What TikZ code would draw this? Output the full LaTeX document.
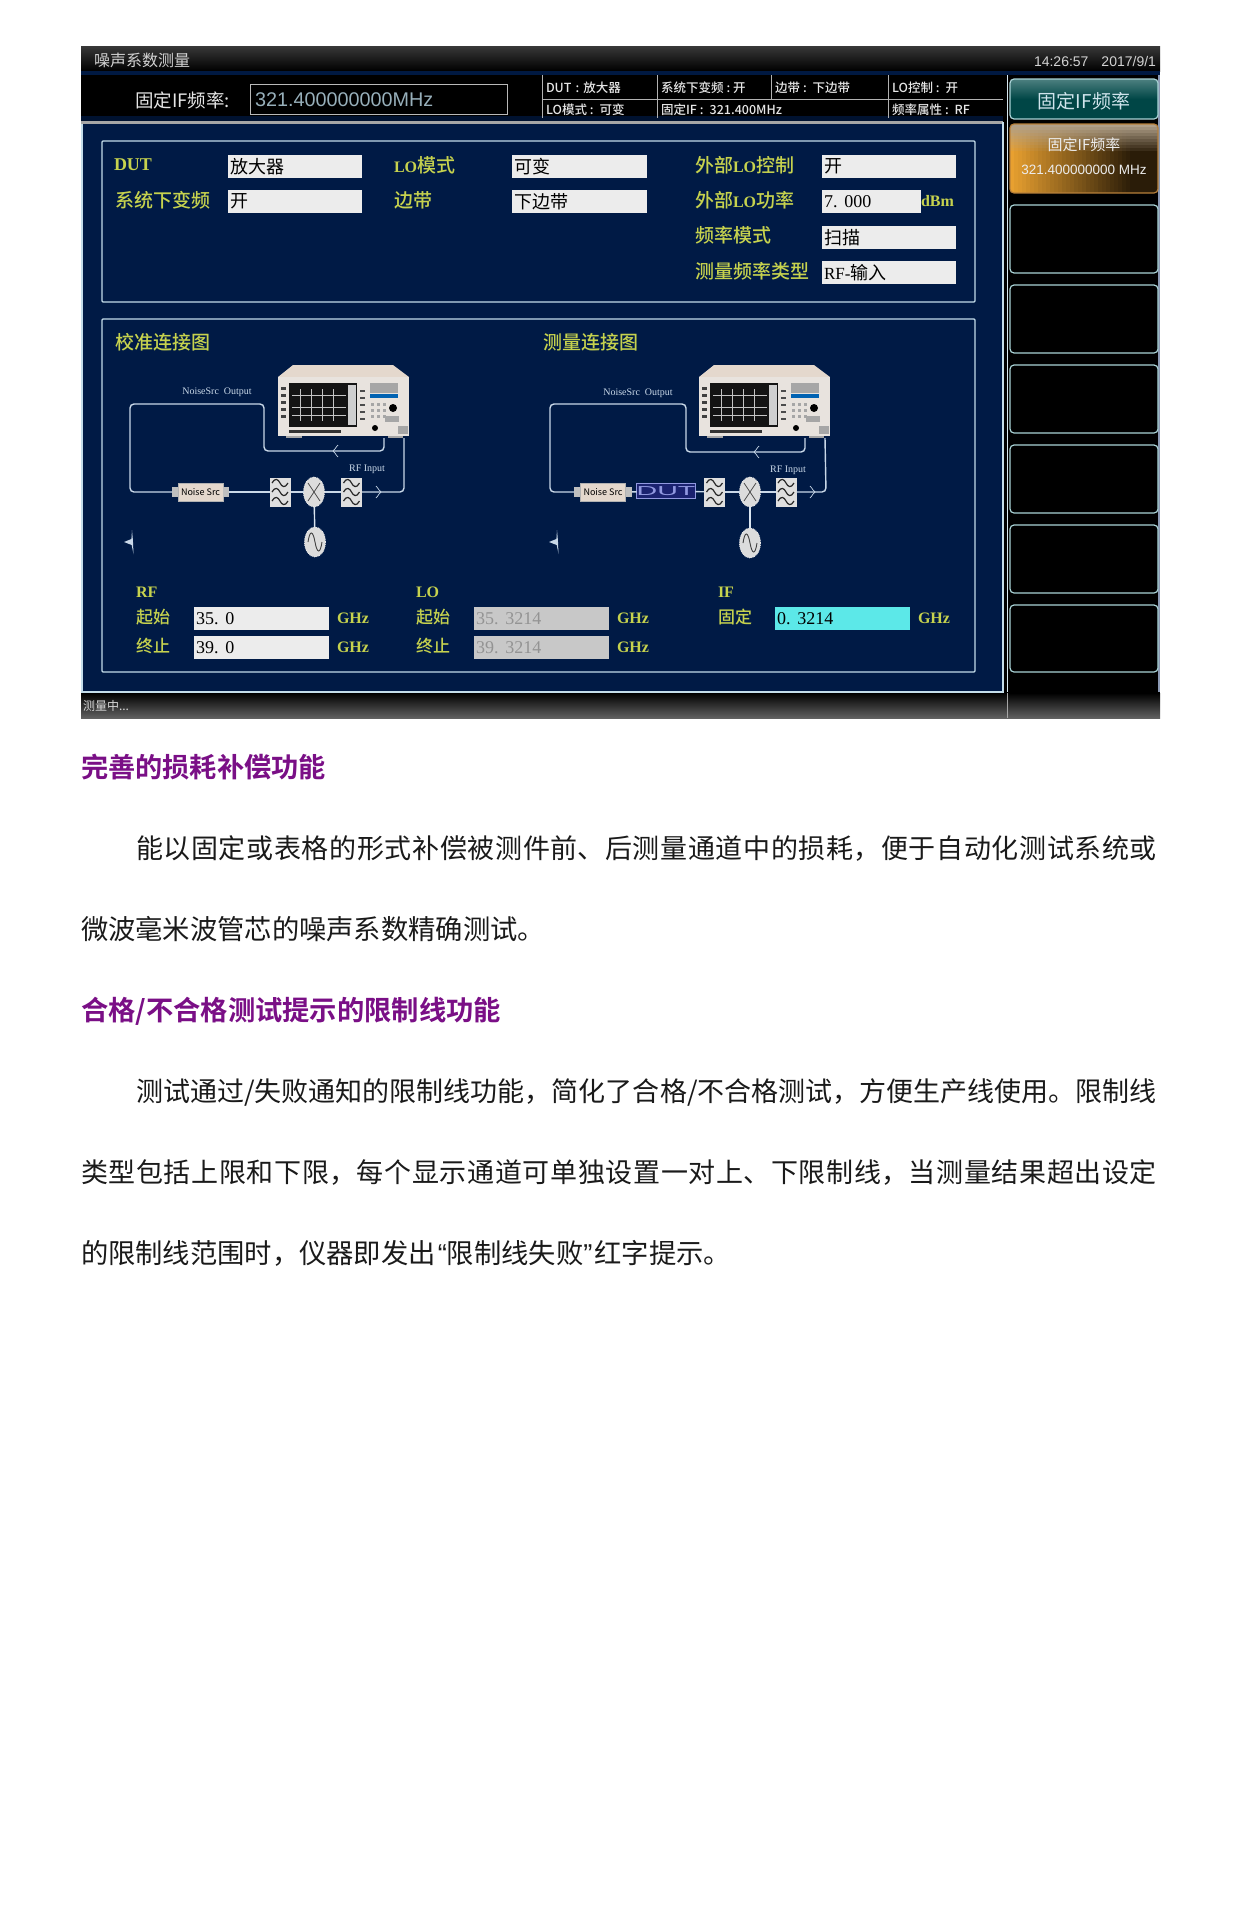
\documentclass[tikz,border=0pt]{standalone}
\usepackage{fontspec}
\usetikzlibrary{shapes.geometric,fadings,arrows.meta}
\setmainfont{Noto Sans CJK SC}
\newfontfamily\ser{Liberation Serif}
\newfontfamily\lsans{Liberation Sans}
\newfontfamily\cjkb{Noto Sans CJK SC Bold}
\newfontfamily\cjkm{Noto Sans CJK SC Medium}
\definecolor{panelbg}{HTML}{001A45}
\definecolor{frameln}{HTML}{C4DDEA}
\definecolor{ylab}{HTML}{C6D24E}
\definecolor{fieldbg}{HTML}{ECECEC}
\definecolor{graybg}{HTML}{C8C8C8}
\definecolor{cyanbg}{HTML}{5CE8E8}
\definecolor{purp}{HTML}{7A0F86}
\definecolor{bodytx}{HTML}{1A1A1A}
\definecolor{keyln}{HTML}{A9D3D6}
\definecolor{cable}{HTML}{C9D8E8}
\definecolor{infotx}{HTML}{E6E6E6}
\definecolor{keyL}{HTML}{E8A030}
\definecolor{keyR}{HTML}{2A1C08}
\definecolor{keyB}{HTML}{B8803A}
\definecolor{keyT}{HTML}{B0A08A}
\definecolor{dutbg}{HTML}{1A2270}
\definecolor{dutln}{HTML}{9098E0}
\definecolor{edgeln}{HTML}{8C9AB4}
\newcount\nid
\newcommand{\sz}[1]{\fontsize{#1}{#1}\selectfont}
\newcommand{\LOt}[1]{{\ser\bfseries\sz{16}#1}}
\newcommand{\TT}[4][]{\global\advance\nid by 1 \node[lab,#1] (t\the\nid) at (#2,#3) {#4};}
\newcommand{\fld}[7][fieldbg]{\fill[#1] (#2,#3) rectangle (#4,#5); \global\advance\nid by 1
  \node[lab,text=#7,font=\ser\sz{18}] (t\the\nid) at (#2+2,{(#3+#5)/2}) {#6};}
\newcommand{\jl}[2]{\parbox{#1pt}{\XeTeXlinebreaklocale "zh"\XeTeXlinebreakskip=0pt plus 3pt minus 1pt\parfillskip=0pt\parindent=0pt\sz{27}\color{bodytx}#2}}
\newcommand{\sk}[4]{\draw[softkey] (#1,#2) rectangle (#3,#4);}
\newcommand{\gp}{\hspace{6pt}}
\tikzset{x=1pt,y=-1pt,
 lab/.style={anchor=west,inner sep=0pt,outer sep=0pt},
 ctr/.style={anchor=center},
 yl/.style={text=ylab,font=\cjkm\sz{19}},
 ylnum/.style={text=ylab,font=\ser\bfseries\sz{16}},
 info/.style={text=infotx,font=\cjkm\sz{12.5}},
 softkey/.style={draw=keyln,line width=1.2pt,rounded corners=4pt,fill=black},
 framebox/.style={draw=frameln,line width=1.3pt,rounded corners=1pt},
 wire/.style={draw=cable,line width=1.4pt,rounded corners=4pt},
 chev/.style={draw=cable,line width=.7pt},
 filterbox/.style={draw=none,fill=fieldbg!88!gray,minimum width=21pt,minimum height=29pt,inner sep=0pt,outer sep=0pt},
 oval/.style={ellipse,draw=fieldbg,densely dotted,line width=.8pt,fill=fieldbg!85!gray,minimum width=21pt,minimum height=30pt,inner sep=0pt,outer sep=0pt},
 noisebody/.style={fill=fieldbg!82!brown,draw=gray!60,line width=.6pt,minimum width=45pt,minimum height=18pt,inner sep=0pt,outer sep=0pt,text=black,font=\sz{9}},
 plug/.style={fill=gray!50,minimum width=6pt,minimum height=10pt,inner sep=0pt,outer sep=0pt},
 sm/.style={text=cable,font=\ser\sz{10},anchor=center,inner sep=0pt},
 pics/analyzer/.style={code={
   \fill[fieldbg!82!brown] (0,12) -- (15,0) -- (115,0) -- (131,12) -- cycle;
   \fill[fieldbg!92!brown] (0,12) rectangle (131,71);
   \fill[gray!70] (8,71) rectangle (24,73);
   \fill[gray!70] (110,71) rectangle (125,73);
   \fill[black!92] (11,18) rectangle (79,62);
   \foreach \gx in {22,33,44,55}{\draw[gray!45,line width=.3pt] (\gx,24) -- (\gx,56);}
   \foreach \gy in {30,42,50}{\draw[gray!45,line width=.3pt] (14,\gy) -- (68,\gy);}
   \fill[gray!38] (70,20) rectangle (78,60);
   \foreach \ky in {22,29,36,43,50}{\fill[black!75] (3,\ky) rectangle (8,\ky+3); \fill[black!70] (82,\ky+3) rectangle (87,\ky+5);}
   \fill[black!80] (11,65) rectangle (63,68);
   \fill[gray!70] (92,18) rectangle (120,28);
   \fill[blue!45!cyan!70!black] (92,29) rectangle (120,33);
   \foreach \kx in {93,99,105}{\foreach \ky in {38,44,50}{\fill[gray!70] (\kx,\ky) rectangle (\kx+3,\ky+3);}}
   \fill[black] (115,43) circle (4);
   \fill[gray!70] (107,51) rectangle (121,57);
   \fill[black] (97,63) circle (3);
   \fill[gray!70] (120,61) rectangle (130,69);
   \coordinate (-out) at (106,73);
   \coordinate (-in) at (126,73);
 }},
 pics/sines/.style={code={
   \foreach \sy in {-9,0,9}{
    \draw[black!85,line width=1.2pt] (-8,\sy) .. controls (-5,\sy-5.5) and (-2,\sy-4) .. (0,\sy) .. controls (2,\sy+4) and (5,\sy+5.5) .. (8,\sy);}
 }},
 pics/cross/.style={code={\draw[black!70,line width=.8pt] (-6,-9) -- (6,9); \draw[black!70,line width=.8pt] (6,-9) -- (-6,9);}},
 pics/wave/.style={code={\draw[black!75,line width=.9pt] (-7,0) .. controls (-5,-13) and (-2,-11) .. (0,0) .. controls (2,11) and (5,13) .. (7,0);}},
 pics/star/.style={code={\fill[cable] (0,-12) -- (.9,-2) -- (1.5,12) -- (-.3,3) -- (-8,0) -- (-.6,-3) -- cycle;}},
 pics/chevR/.style={code={\draw[chev] (-2,-6) .. controls (1,-3) and (1,-1) .. (3,0) .. controls (1,1) and (1,3) .. (-2,6);}},
 pics/chevL/.style={code={\draw[chev] (2,-6) .. controls (-1,-3) and (-1,-1) .. (-3,0) .. controls (-1,1) and (-1,3) .. (2,6);}},
}
\begin{document}
\begin{tikzpicture}
\useasboundingbox (0,0) rectangle (1235,1920);
\fill[white] (0,0) rectangle (1235,1920);
% screen
\fill[black] (81,46) rectangle (1160,718);
\shade[top color=black!78,bottom color=black] (81,46) rectangle (1160,71);
\fill[black!5!panelbg] (81,71) rectangle (1160,75);
\fill[panelbg!70!black] (81,116) rectangle (1003,122);
\fill[gray!70] (81,121) rectangle (1003,124);
\fill[panelbg] (82,124) rectangle (1003,692);
\draw[frameln,line width=1.5pt] (82,124) -- (82,692) -- (1003,692) -- (1003,122);
\fill[edgeln] (1158,75) rectangle (1160,692);
\shade[top color=black,bottom color=black!62] (81,693) rectangle (1160,718);
\draw[gray!70,line width=.5pt] (1007,693) -- (1007,718);
\draw[frameln!70,line width=.7pt] (1007,75) -- (1007,692);
\TT[text=gray!35,font=\sz{16}]{94}{60}{噪声系数测量}
\TT[anchor=east,text=gray!35,font=\lsans\sz{14}]{1156}{61}{14:26:57\hspace{13pt}2017/9/1}
\TT[text=gray!20,font=\sz{18.5}]{135}{100}{固定IF频率:}
\draw[gray!55,line width=.8pt,fill=black] (250,84) rectangle (507,114);
\TT[text=cyan!25!gray!80,font=\lsans\sz{19.8}]{255}{100}{321.400000000MHz}
% info bar
\draw[gray!60,line width=.6pt] (542,75) -- (542,118);
\draw[gray!60,line width=.6pt] (657,75) -- (657,118);
\draw[gray!60,line width=.6pt] (771,75) -- (771,99);
\draw[gray!60,line width=.6pt] (888,75) -- (888,118);
\draw[gray!60,line width=.6pt] (542,99) -- (1003,99);
\TT[info]{546}{88}{DUT\hspace{4pt}:\hspace{4pt}放大器}
\TT[info]{546}{110}{LO模式\hspace{3pt}:\gp 可变}
\TT[info]{661}{88}{系统下变频\hspace{3pt}:\hspace{3pt}开}
\TT[info]{661}{110}{固定IF\hspace{3pt}:\gp 321.400MHz}
\TT[info]{775}{88}{边带\hspace{3pt}:\gp 下边带}
\TT[info]{892}{88}{LO控制\hspace{3pt}:\gp 开}
\TT[info]{892}{110}{频率属性\hspace{3pt}:\gp RF}
% soft keys
\draw[softkey,fill=none,top color=gray!60!teal,bottom color=teal!55!black,middle color=teal!55!black] (1010,79) rectangle (1158,119);
\TT[ctr,text=cyan!15!white!85!gray,font=\sz{19}]{1084}{101}{固定IF频率}
\begin{scope}
\clip[rounded corners=4pt] (1010,124) rectangle (1158,193);
\foreach \i in {0,...,36}{
  \pgfmathtruncatemacro{\mA}{max(0,100-\i*100/30)}
  \colorlet{keycol}{keyL!\mA!keyR}
  \fill[keycol] (1010+4*\i,150) rectangle (1014.4+4*\i,193);
  \foreach \j in {0,...,8}{
    \pgfmathtruncatemacro{\mB}{\j*100/9}
    \fill[keycol!\mB!keyT] (1010+4*\i,124+3*\j) rectangle (1014.4+4*\i,127.4+3*\j);
  }
}
\end{scope}
\draw[draw=keyB,line width=1.2pt,rounded corners=4pt] (1010,124) rectangle (1158,193);
\TT[ctr,text=white!85!gray,font=\sz{15}]{1084}{145}{固定IF频率}
\TT[ctr,text=white!85!gray,font=\lsans\sz{13.5}]{1084}{170}{321.400000000 MHz}
\sk{1010}{205}{1158}{273}
\sk{1010}{285}{1158}{353}
\sk{1010}{365}{1158}{433}
\sk{1010}{445}{1158}{513}
\sk{1010}{525}{1158}{593}
\sk{1010}{605}{1158}{672}
% top panel
\draw[framebox] (102,141) rectangle (975,302);
\TT[ylnum,font=\ser\bfseries\sz{18}]{114}{165}{DUT}
\TT[yl]{115}{200}{系统下变频}
\fld{228}{155}{362}{178}{\sz{18}\rmfamily 放大器}{black}
\fld{228}{190}{362}{213}{\sz{18}\rmfamily 开}{black}
\TT[yl]{394}{165}{\LOt{LO}模式}
\TT[yl]{394}{200}{边带}
\fld{512}{155}{647}{178}{\sz{18}\rmfamily 可变}{black}
\fld{512}{190}{647}{213}{\sz{18}\rmfamily 下边带}{black}
\TT[yl]{695}{165}{外部\LOt{LO}控制}
\TT[yl]{695}{200}{外部\LOt{LO}功率}
\TT[yl]{695}{235}{频率模式}
\TT[yl]{695}{271}{测量频率类型}
\fld{822}{155}{956}{178}{\sz{18}\rmfamily 开}{black}
\fld{822}{190}{921}{213}{7.\hspace{7pt}000}{black}
\TT[ylnum]{921}{201}{dBm}
\fld{822}{226}{956}{249}{\sz{18}\rmfamily 扫描}{black}
\fld{822}{261}{956}{284}{\sz{17}RF-\sz{18}\rmfamily 输入}{black}
% lower panel
\draw[framebox] (102,319) rectangle (975,672);
\TT[yl]{115}{342}{校准连接图}
\TT[yl]{543}{342}{测量连接图}
% --- calibration diagram
\pic (aa) at (278,365) {analyzer};
\node[noisebody] (ans) at (200.5,492) {Noise Src};
\node[plug] (ansl) at (175,492) {};
\node[plug] (ansr) at (226,492) {};
\node[filterbox] (af1) at (280,492) {};
\node[oval] (amx) at (314,492) {};
\node[filterbox] (af2) at (351.5,492) {};
\node[oval] (aos) at (315,542) {};
\coordinate (ac1) at (384,451);
\coordinate (ac2) at (264,451);
\coordinate (ac3) at (264,404);
\coordinate (ac4) at (130,404);
\coordinate (ac5) at (130,492);
\coordinate (ac6) at (404,492);
\draw[wire] (aa-out) -- (ac1) -- (ac2) -- (ac3) -- (ac4) -- (ac5) -- (ansl);
\draw[wire] (ansr) -- (af1);
\draw[wire] (af1) -- (amx);
\draw[wire] (amx) -- (af2);
\draw[wire] (af2) -- (ac6) -- (aa-in);
\draw[wire,draw=cable!70] (amx) -- (aos);
\pic at (af1) {sines};
\pic at (af2) {sines};
\pic at (amx) {cross};
\pic at (aos) {wave};
\pic at (378,492) {chevR};
\pic at (336,451) {chevL};
\pic at (132,542) {star};
\node[sm] (anso) at (217,392) {NoiseSrc\hspace{5pt}Output};
\node[sm] (arfi) at (367,469) {RF Input};
% --- measurement diagram
\pic (bb) at (699,365) {analyzer};
\node[noisebody] (bns) at (603,492) {Noise Src};
\node[plug] (bnsl) at (577,492) {};
\node[plug] (bnsr) at (629,492) {};
\node[draw=dutln,line width=1.4pt,fill=dutbg,minimum width=57pt,minimum height=15pt,inner sep=0pt,outer sep=0pt,text=dutln,font=\lsans\sz{13}] (bdu) at (666,491) {\scalebox{2.2}[1]{DUT}};
\node[filterbox] (bf1) at (714.5,492) {};
\node[oval] (bmx) at (750,492) {};
\node[filterbox] (bf2) at (786,492) {};
\node[oval] (bos) at (750,543) {};
\coordinate (bc1) at (805,452);
\coordinate (bc2) at (686,452);
\coordinate (bc3) at (686,404);
\coordinate (bc4) at (550,404);
\coordinate (bc5) at (550,492);
\coordinate (bc6) at (826,492);
\draw[wire] (bb-out) -- (bc1) -- (bc2) -- (bc3) -- (bc4) -- (bc5) -- (bnsl);
\draw[wire] (bnsr) -- (bdu);
\draw[wire] (bdu) -- (bf1);
\draw[wire] (bf1) -- (bmx);
\draw[wire] (bmx) -- (bf2);
\draw[wire] (bf2) -- (bc6) -- (bb-in);
\draw[wire,draw=cable!70] (bmx) -- (bos);
\pic at (bf1) {sines};
\pic at (bf2) {sines};
\pic at (bmx) {cross};
\pic at (bos) {wave};
\pic at (812,492) {chevR};
\pic at (757,452) {chevL};
\pic at (557,542) {star};
\node[sm] (bnso) at (638,393) {NoiseSrc\hspace{5pt}Output};
\node[sm] (brfi) at (788,470) {RF Input};
% --- frequency table
\TT[ylnum]{136}{592}{RF}
\TT[yl,font=\cjkm\sz{17}]{136}{617}{起始}
\TT[yl,font=\cjkm\sz{17}]{136}{646}{终止}
\fld{194}{607}{329}{630}{35.\hspace{7pt}0}{black}
\fld{194}{636}{329}{659}{39.\hspace{7pt}0}{black}
\TT[ylnum]{337}{618}{GHz}
\TT[ylnum]{337}{647}{GHz}
\TT[ylnum]{416}{592}{LO}
\TT[yl,font=\cjkm\sz{17}]{416}{617}{起始}
\TT[yl,font=\cjkm\sz{17}]{416}{646}{终止}
\fld[graybg]{474}{607}{609}{630}{35.\hspace{7pt}3214}{gray!85}
\fld[graybg]{474}{636}{609}{659}{39.\hspace{7pt}3214}{gray!85}
\TT[ylnum]{617}{618}{GHz}
\TT[ylnum]{617}{647}{GHz}
\TT[ylnum]{718}{592}{IF}
\TT[yl,font=\cjkm\sz{17}]{718}{617}{固定}
\fld[cyanbg]{775}{607}{910}{630}{0.\hspace{7pt}3214}{black}
\TT[ylnum]{918}{618}{GHz}
\TT[text=gray!30,font=\sz{12}]{83}{706}{测量中...}
% --- article text
\TT[text=purp,font=\cjkb\sz{27.2}]{81}{767}{完善的损耗补偿功能}
\TT{136}{848}{\jl{1021}{能以固定或表格的形式补偿被测件前、后测量通道中的损耗，便于自动化测试系统或}}
\TT{81}{929}{\sz{27.3}\color{bodytx}微波毫米波管芯的噪声系数精确测试。}
\TT[text=purp,font=\cjkb\sz{27.3}]{81}{1011}{合格/不合格测试提示的限制线功能}
\TT{136}{1092}{\jl{1021}{测试通过/失败通知的限制线功能，简化了合格/不合格测试，方便生产线使用。限制线}}
\TT{81}{1172}{\jl{1076}{类型包括上限和下限，每个显示通道可单独设置一对上、下限制线，当测量结果超出设定}}
\TT{81}{1253}{\sz{27.3}\color{bodytx}的限制线范围时，仪器即发出{\lsans\hspace{2pt}“}限制线失败{\lsans ”\hspace{2pt}}红字提示。}
\end{tikzpicture}
\end{document}
